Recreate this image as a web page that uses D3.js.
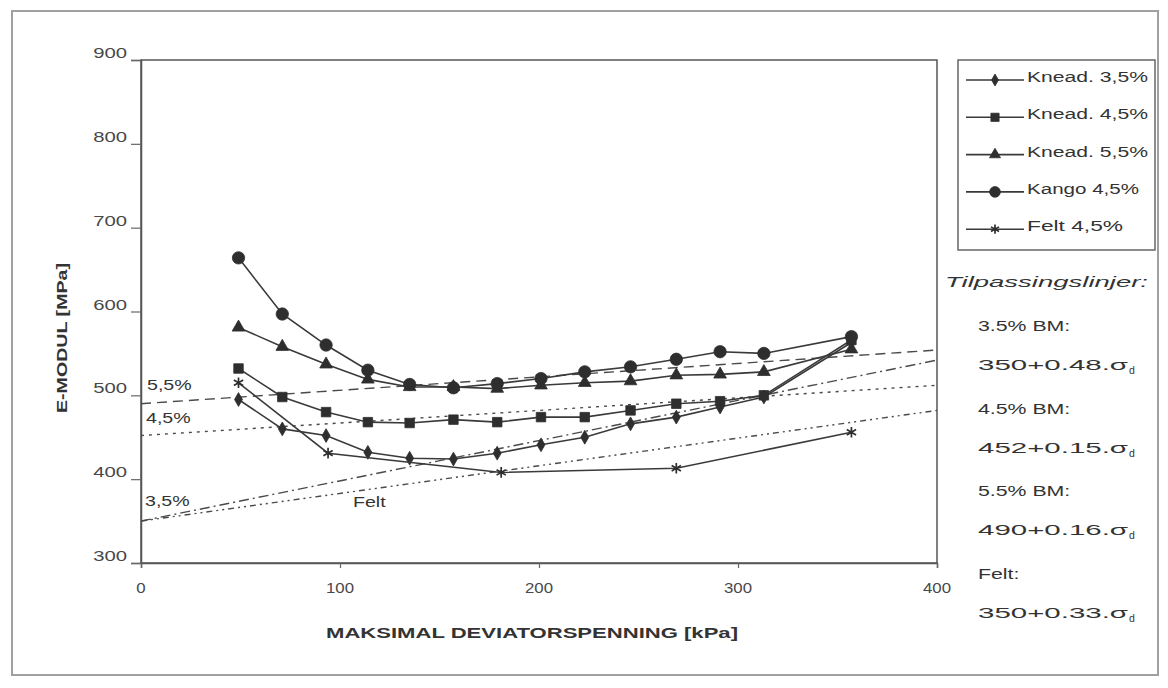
<!DOCTYPE html>
<html>
<head>
<meta charset="utf-8">
<script src="https://cdn.jsdelivr.net/npm/d3@7"></script>
<style>
  body { margin: 0; background: #fff; }
  svg { display: block; }
</style>
</head>
<body>
<svg id="chart" width="1168" height="688"></svg>
<script>
// Maximum deviator stress [kPa] at each load step
const stress = [49, 71, 93, 114, 135, 157, 179, 201, 223, 246, 269, 291, 313, 357];
// Resilient modulus [MPa] per specimen
const knead35 = [495, 460, 452, 432, 425, 424, 431, 441, 450, 466, 474, 486, 498, 563];
const knead45 = [532, 498, 480, 468, 467, 471, 468, 474, 474, 482, 490, 493, 500, 566];
const knead55 = [581, 558, 537, 519, 510, 510, 508, 512, 515, 517, 524, 525, 528, 555];
const kango45 = [664, 597, 560, 530, 513, 509, 514, 520, 528, 534, 543, 552, 550, 570];
// Field specimen was loaded at fewer steps
const feltStress = [49, 94, 181, 269, 357];
const felt45 = [515, 431, 408, 413, 456];

// Fitted lines E = a + b * sigma_d
const fitNames = ["5,5%", "4,5%", "3,5%", "Felt"];
const fitIntercept = [490, 452, 350, 350];
const fitSlope = [0.16, 0.15, 0.48, 0.33];
const fitDash = ["10,6", "3,5", "10,4,2,4", "6,4,2,4,2,4"];

const xTicks = [0, 100, 200, 300, 400];
const yTicks = [300, 400, 500, 600, 700, 800, 900];

const legendNames = ["Knead. 3,5%", "Knead. 4,5%", "Knead. 5,5%", "Kango 4,5%", "Felt 4,5%"];

const ink = "#333";
const FONT = "Liberation Sans, Arial, sans-serif";

const svg = d3.select("#chart");

const x = d3.scaleLinear().domain([0, 400]).range([141, 937]);
const y = d3.scaleLinear().domain([300, 900]).range([563, 60]);

// lettering helper: either stretched horizontally or fitted to a width
function label(g, px, py, str, opt = {}) {
  const size = opt.size || 15;
  const t = g.append("text")
    .attr("font-family", FONT)
    .attr("font-size", size)
    .attr("font-weight", opt.weight || "normal")
    .attr("font-style", opt.style || "normal")
    .attr("fill", opt.fill || ink)
    .attr("text-anchor", opt.anchor || "start")
    .attr("dominant-baseline", "middle");
  if (opt.len) {
    t.attr("x", px).attr("y", py);
  } else {
    t.attr("transform", `translate(${px},${py}) scale(${opt.sx || 1.4},1)`);
  }
  const main = t.append("tspan").text(str);
  if (opt.len) main.attr("textLength", opt.len).attr("lengthAdjust", "spacingAndGlyphs");
  if (opt.sub) {
    t.append("tspan").attr("font-size", size * 0.7).attr("dy", 5).attr("dx", 1).text(opt.sub);
  }
  return t;
}

// outer frame
svg.append("rect")
  .attr("x", 12).attr("y", 11).attr("width", 1146).attr("height", 664)
  .attr("fill", "none").attr("stroke", "#a0a0a0").attr("stroke-width", 2);

// plot area border
svg.append("rect")
  .attr("x", x(0)).attr("y", y(900))
  .attr("width", x(400) - x(0)).attr("height", y(300) - y(900))
  .attr("fill", "none").attr("stroke", "#555").attr("stroke-width", 1.5);

// axes
const yAxis = d3.axisLeft(y).tickValues(yTicks).tickSize(10).tickFormat("");
const yG = svg.append("g").attr("transform", `translate(${x(0)},0)`).call(yAxis);
const xAxis = d3.axisBottom(x).tickValues(xTicks).tickSize(5).tickFormat("");
const xG = svg.append("g").attr("transform", `translate(0,${y(300)})`).call(xAxis);
[yG, xG].forEach(g => {
  g.selectAll("path").attr("stroke", "#555").attr("stroke-width", 1.5);
  g.selectAll("line").attr("stroke", "#666").attr("stroke-width", 1.2);
});

const tickLayer = svg.append("g");
yTicks.forEach(v => label(tickLayer, 127, y(v) - 6, String(v), { anchor: "end", size: 14, sx: 1.45, fill: "#484848" }));
xTicks.forEach(v => label(tickLayer, x(v), 589, String(v), { anchor: "middle", size: 14, sx: 1.2, fill: "#484848" }));

// axis titles
svg.append("text")
  .attr("transform", `translate(63,338) rotate(-90)`)
  .attr("font-family", FONT)
  .attr("font-size", 14).attr("font-weight", "bold").attr("fill", ink)
  .attr("text-anchor", "middle").attr("dominant-baseline", "middle")
  .attr("textLength", 150).attr("lengthAdjust", "spacingAndGlyphs")
  .text("E-MODUL [MPa]");
svg.append("text")
  .attr("x", 532).attr("y", 634)
  .attr("font-family", FONT)
  .attr("font-size", 14).attr("font-weight", "bold").attr("fill", ink)
  .attr("text-anchor", "middle").attr("dominant-baseline", "middle")
  .attr("textLength", 412).attr("lengthAdjust", "spacingAndGlyphs")
  .text("MAKSIMAL DEVIATORSPENNING [kPa]");

// fitted lines, clipped to the plot area
svg.append("clipPath").attr("id", "plotClip").append("rect")
  .attr("x", x(0)).attr("y", y(900)).attr("width", x(400) - x(0)).attr("height", y(300) - y(900));
const fitG = svg.append("g").attr("clip-path", "url(#plotClip)");
fitNames.forEach((n, i) => {
  fitG.append("line")
    .attr("x1", x(0)).attr("y1", y(fitIntercept[i]))
    .attr("x2", x(400)).attr("y2", y(fitIntercept[i] + fitSlope[i] * 400))
    .attr("stroke", "#4a4a4a").attr("stroke-width", 1.4)
    .attr("stroke-dasharray", fitDash[i]);
});
const fitLab = svg.append("g");
label(fitLab, 147, 386, "5,5%", { size: 14 });
label(fitLab, 146, 419, "4,5%", { size: 14 });
label(fitLab, 145, 502, "3,5%", { size: 14 });
label(fitLab, 353, 503, "Felt", { size: 14 });

// measured series
const series = [
  { xs: stress, ys: knead35, sym: d3.symbolDiamond, size: 55, fill: true },
  { xs: stress, ys: knead45, sym: d3.symbolSquare, size: 90, fill: true },
  { xs: stress, ys: knead55, sym: d3.symbolTriangle, size: 70, fill: true },
  { xs: stress, ys: kango45, sym: d3.symbolCircle, size: 120, fill: true },
  { xs: feltStress, ys: felt45, sym: d3.symbolAsterisk, size: 80, fill: false }
];

const line = d3.line().x(d => x(d[0])).y(d => y(d[1]));

function marker(g, s, px, py, scale = 1) {
  g.append("path")
    .attr("d", d3.symbol().type(s.sym).size(s.size * scale)())
    .attr("transform", `translate(${px},${py})`)
    .attr("fill", s.fill ? "#2e2e2e" : "none")
    .attr("stroke", "#2e2e2e")
    .attr("stroke-width", s.fill ? 0.8 : 1.7);
}

const serG = svg.append("g");
series.forEach(s => {
  const pts = s.xs.map((v, i) => [v, s.ys[i]]);
  serG.append("path").attr("d", line(pts))
    .attr("fill", "none").attr("stroke", "#3a3a3a").attr("stroke-width", 1.6);
  pts.forEach(p => marker(serG, s, x(p[0]), y(p[1])));
});

// legend
const lg = svg.append("g");
lg.append("rect").attr("x", 958).attr("y", 60).attr("width", 197).attr("height", 190)
  .attr("fill", "none").attr("stroke", "#666").attr("stroke-width", 1.5);
const legendLen = [121, 121, 121, 112, 96];
legendNames.forEach((n, i) => {
  const ly = 80 + i * 37.3;
  lg.append("line").attr("x1", 966).attr("x2", 1024).attr("y1", ly).attr("y2", ly)
    .attr("stroke", "#3a3a3a").attr("stroke-width", 1.6);
  marker(lg, series[i], 995, ly, 0.75);
  label(lg, 1027, ly - 2, n, { size: 14, len: legendLen[i] });
});

// fitted-line equations
const eq = svg.append("g");
label(eq, 945, 283, "Tilpassingslinjer:", { style: "italic", size: 15, len: 203 });
const eqRows = [
  ["3.5% BM:", "350+0.48.σ"],
  ["4.5% BM:", "452+0.15.σ"],
  ["5.5% BM:", "490+0.16.σ"],
  ["Felt:", "350+0.33.σ"]
];
eqRows.forEach((r, i) => {
  const top = 327 + i * 82.5;
  label(eq, 978, top, r[0], { size: 15, sx: 1.42 });
  label(eq, 978, top + 39, r[1], { size: 15, len: 150, sub: "d" });
});
</script>
</body>
</html>
